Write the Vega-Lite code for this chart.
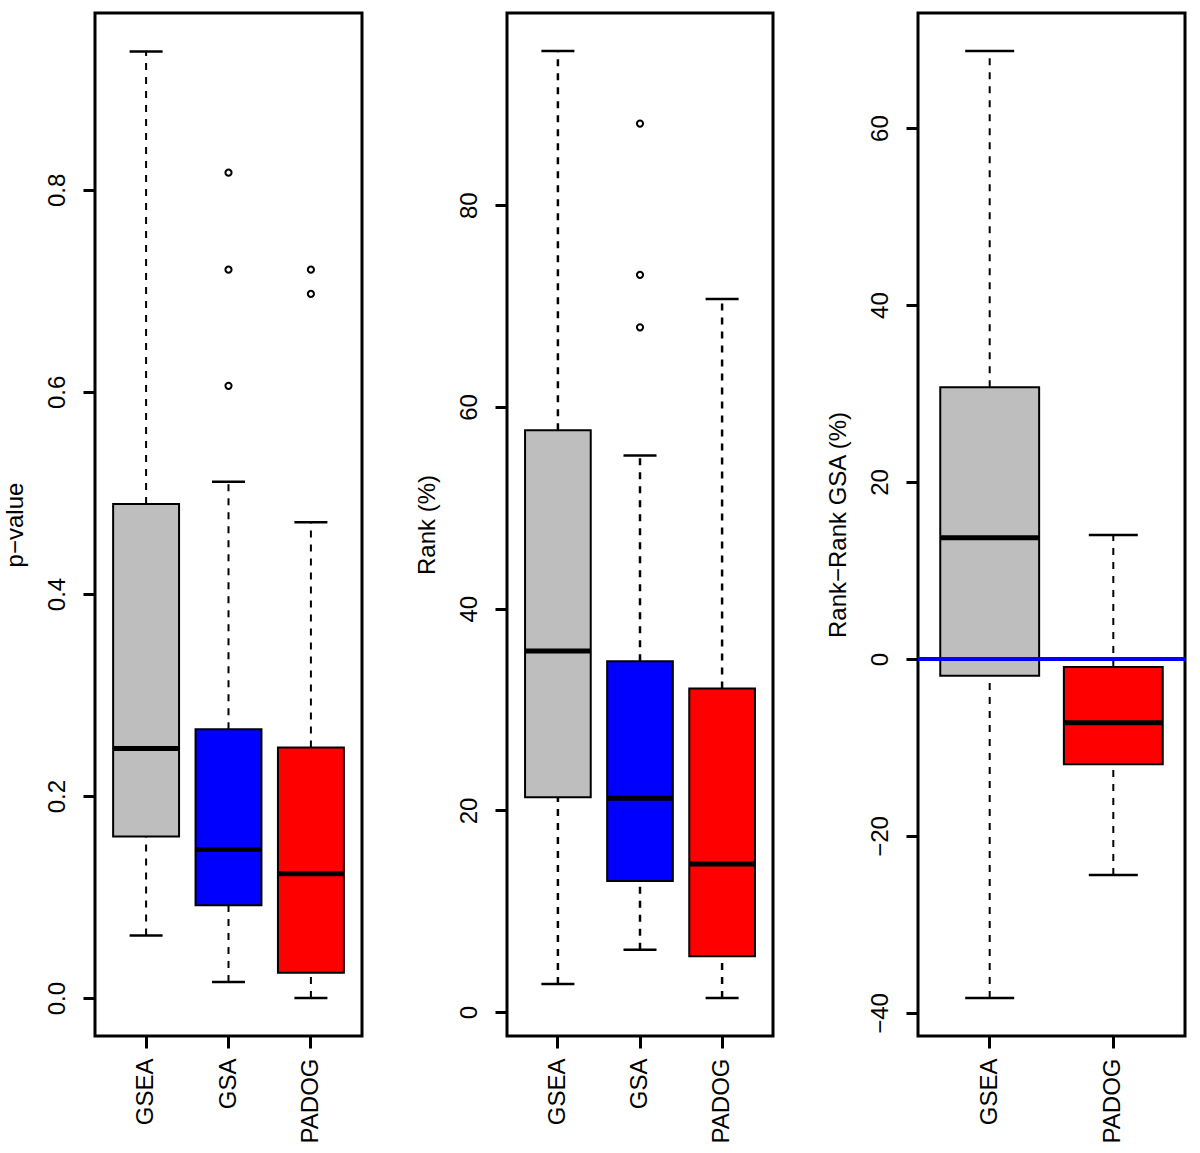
{
  "$schema": "https://vega.github.io/schema/vega-lite/v6.json",
  "background": "white",
  "padding": {"left": 1, "top": 11, "right": 5, "bottom": 5},
  "spacing": 49,
  "config": {
    "font": "Liberation Sans",
    "view": {"stroke": "black", "strokeWidth": 3},
    "axis": {
      "grid": false, "domain": false,
      "tickColor": "black", "tickWidth": 3, "tickSize": 12,
      "labelFontSize": 24, "labelColor": "black", "labelFont": "Liberation Sans",
      "titleFontSize": 24, "titleFontWeight": "normal", "titleColor": "black", "titleFont": "Liberation Sans"
    },
    "axisX": {"labelAngle": -90, "labelPadding": 10},
    "axisY": {"labelAngle": -90, "labelAlign": "center", "labelBaseline": "bottom", "labelPadding": 14, "titlePadding": 18}
  },
  "datasets": {
    "pval": [
      {"method": "GSEA", "lo": 0.062, "q1": 0.160, "med": 0.247, "q3": 0.489, "hi": 0.937},
      {"method": "GSA", "lo": 0.016, "q1": 0.092, "med": 0.147, "q3": 0.266, "hi": 0.511},
      {"method": "PADOG", "lo": 0.0, "q1": 0.025, "med": 0.123, "q3": 0.248, "hi": 0.471}
    ],
    "pvalOut": [
      {"method": "GSA", "value": 0.817},
      {"method": "GSA", "value": 0.721},
      {"method": "GSA", "value": 0.606},
      {"method": "PADOG", "value": 0.721},
      {"method": "PADOG", "value": 0.697}
    ],
    "rank": [
      {"method": "GSEA", "lo": 2.8, "q1": 21.3, "med": 35.8, "q3": 57.7, "hi": 95.3},
      {"method": "GSA", "lo": 6.2, "q1": 13.0, "med": 21.2, "q3": 34.8, "hi": 55.2},
      {"method": "PADOG", "lo": 1.4, "q1": 5.55, "med": 14.7, "q3": 32.1, "hi": 70.7}
    ],
    "rankOut": [
      {"method": "GSA", "value": 88.1},
      {"method": "GSA", "value": 73.1},
      {"method": "GSA", "value": 67.9}
    ],
    "diff": [
      {"method": "GSEA", "lo": -38.3, "q1": -1.9, "med": 13.7, "q3": 30.7, "hi": 68.7},
      {"method": "PADOG", "lo": -24.4, "q1": -11.9, "med": -7.2, "q3": -0.9, "hi": 14.0}
    ],
    "ref": [{"zero": 0}]
  },
  "hconcat": [
    {
      "width": 267, "height": 1023,
      "data": {"name": "pval"},
      "layer": [
        {"mark": {"type": "rule", "strokeDash": [7, 7], "strokeWidth": 2, "color": "black"},
         "encoding": {
           "x": {"field": "method", "type": "nominal", "sort": ["GSEA", "GSA", "PADOG"], "scale": {"paddingInner": 0.2, "paddingOuter": 0.22}, "axis": {"title": null}},
           "y": {"field": "lo", "type": "quantitative", "scale": {"domain": [-0.0375, 0.975], "nice": false, "zero": false}, "axis": {"title": "p−value", "values": [0, 0.2, 0.4, 0.6, 0.8], "format": ".1f"}},
           "y2": {"field": "q1"}}},
        {"mark": {"type": "rule", "strokeDash": [7, 7], "strokeWidth": 2, "color": "black"},
         "encoding": {"x": {"field": "method", "type": "nominal", "sort": ["GSEA", "GSA", "PADOG"]}, "y": {"field": "q3", "type": "quantitative"}, "y2": {"field": "hi"}}},
        {"mark": {"type": "tick", "size": 33, "thickness": 2.5, "color": "black", "opacity": 1},
         "encoding": {"x": {"field": "method", "type": "nominal", "sort": ["GSEA", "GSA", "PADOG"]}, "y": {"field": "lo", "type": "quantitative"}}},
        {"mark": {"type": "tick", "size": 33, "thickness": 2.5, "color": "black", "opacity": 1},
         "encoding": {"x": {"field": "method", "type": "nominal", "sort": ["GSEA", "GSA", "PADOG"]}, "y": {"field": "hi", "type": "quantitative"}}},
        {"mark": {"type": "bar", "stroke": "black", "strokeWidth": 2, "opacity": 1},
         "encoding": {"x": {"field": "method", "type": "nominal", "sort": ["GSEA", "GSA", "PADOG"]}, "y": {"field": "q1", "type": "quantitative"}, "y2": {"field": "q3"},
           "color": {"field": "method", "type": "nominal", "scale": {"domain": ["GSEA", "GSA", "PADOG"], "range": ["#BEBEBE", "#0000FF", "#FF0000"]}, "legend": null}}},
        {"mark": {"type": "tick", "size": 66, "thickness": 5, "color": "black", "opacity": 1},
         "encoding": {"x": {"field": "method", "type": "nominal", "sort": ["GSEA", "GSA", "PADOG"]}, "y": {"field": "med", "type": "quantitative"}}},
        {"data": {"name": "pvalOut"},
         "mark": {"type": "point", "filled": false, "stroke": "black", "strokeWidth": 2, "size": 38, "opacity": 1},
         "encoding": {"x": {"field": "method", "type": "nominal", "sort": ["GSEA", "GSA", "PADOG"]}, "y": {"field": "value", "type": "quantitative"}}}
      ]
    },
    {
      "width": 266, "height": 1023,
      "data": {"name": "rank"},
      "layer": [
        {"mark": {"type": "rule", "strokeDash": [7, 7], "strokeWidth": 2.5, "color": "black"},
         "encoding": {
           "x": {"field": "method", "type": "nominal", "sort": ["GSEA", "GSA", "PADOG"], "scale": {"paddingInner": 0.2, "paddingOuter": 0.22}, "axis": {"title": null}},
           "y": {"field": "lo", "type": "quantitative", "scale": {"domain": [-2.36, 99.06], "nice": false, "zero": false}, "axis": {"title": "Rank (%)", "values": [0, 20, 40, 60, 80]}},
           "y2": {"field": "q1"}}},
        {"mark": {"type": "rule", "strokeDash": [7, 7], "strokeWidth": 2.5, "color": "black"},
         "encoding": {"x": {"field": "method", "type": "nominal", "sort": ["GSEA", "GSA", "PADOG"]}, "y": {"field": "q3", "type": "quantitative"}, "y2": {"field": "hi"}}},
        {"mark": {"type": "tick", "size": 33, "thickness": 2.5, "color": "black", "opacity": 1},
         "encoding": {"x": {"field": "method", "type": "nominal", "sort": ["GSEA", "GSA", "PADOG"]}, "y": {"field": "lo", "type": "quantitative"}}},
        {"mark": {"type": "tick", "size": 33, "thickness": 2.5, "color": "black", "opacity": 1},
         "encoding": {"x": {"field": "method", "type": "nominal", "sort": ["GSEA", "GSA", "PADOG"]}, "y": {"field": "hi", "type": "quantitative"}}},
        {"mark": {"type": "bar", "stroke": "black", "strokeWidth": 2, "opacity": 1},
         "encoding": {"x": {"field": "method", "type": "nominal", "sort": ["GSEA", "GSA", "PADOG"]}, "y": {"field": "q1", "type": "quantitative"}, "y2": {"field": "q3"},
           "color": {"field": "method", "type": "nominal", "scale": {"domain": ["GSEA", "GSA", "PADOG"], "range": ["#BEBEBE", "#0000FF", "#FF0000"]}, "legend": null}}},
        {"mark": {"type": "tick", "size": 66, "thickness": 5, "color": "black", "opacity": 1},
         "encoding": {"x": {"field": "method", "type": "nominal", "sort": ["GSEA", "GSA", "PADOG"]}, "y": {"field": "med", "type": "quantitative"}}},
        {"data": {"name": "rankOut"},
         "mark": {"type": "point", "filled": false, "stroke": "black", "strokeWidth": 2, "size": 38, "opacity": 1},
         "encoding": {"x": {"field": "method", "type": "nominal", "sort": ["GSEA", "GSA", "PADOG"]}, "y": {"field": "value", "type": "quantitative"}}}
      ]
    },
    {
      "width": 267, "height": 1023,
      "data": {"name": "diff"},
      "layer": [
        {"mark": {"type": "rule", "strokeDash": [7, 7], "strokeWidth": 2, "color": "black"},
         "encoding": {
           "x": {"field": "method", "type": "nominal", "sort": ["GSEA", "PADOG"], "scale": {"paddingInner": 0.2, "paddingOuter": 0.18}, "axis": {"title": null}},
           "y": {"field": "lo", "type": "quantitative", "scale": {"domain": [-42.6, 73.0], "nice": false, "zero": false}, "axis": {"title": "Rank−Rank GSA (%)", "values": [-40, -20, 0, 20, 40, 60]}},
           "y2": {"field": "q1"}}},
        {"mark": {"type": "rule", "strokeDash": [7, 7], "strokeWidth": 2, "color": "black"},
         "encoding": {"x": {"field": "method", "type": "nominal", "sort": ["GSEA", "PADOG"]}, "y": {"field": "q3", "type": "quantitative"}, "y2": {"field": "hi"}}},
        {"mark": {"type": "tick", "size": 49, "thickness": 2.5, "color": "black", "opacity": 1},
         "encoding": {"x": {"field": "method", "type": "nominal", "sort": ["GSEA", "PADOG"]}, "y": {"field": "lo", "type": "quantitative"}}},
        {"mark": {"type": "tick", "size": 49, "thickness": 2.5, "color": "black", "opacity": 1},
         "encoding": {"x": {"field": "method", "type": "nominal", "sort": ["GSEA", "PADOG"]}, "y": {"field": "hi", "type": "quantitative"}}},
        {"mark": {"type": "bar", "stroke": "black", "strokeWidth": 2, "opacity": 1},
         "encoding": {"x": {"field": "method", "type": "nominal", "sort": ["GSEA", "PADOG"]}, "y": {"field": "q1", "type": "quantitative"}, "y2": {"field": "q3"},
           "color": {"field": "method", "type": "nominal", "scale": {"domain": ["GSEA", "GSA", "PADOG"], "range": ["#BEBEBE", "#0000FF", "#FF0000"]}, "legend": null}}},
        {"mark": {"type": "tick", "size": 99, "thickness": 5, "color": "black", "opacity": 1},
         "encoding": {"x": {"field": "method", "type": "nominal", "sort": ["GSEA", "PADOG"]}, "y": {"field": "med", "type": "quantitative"}}},
        {"data": {"name": "ref"},
         "mark": {"type": "rule", "color": "#0000FF", "strokeWidth": 4},
         "encoding": {"y": {"field": "zero", "type": "quantitative"}}}
      ]
    }
  ]
}
